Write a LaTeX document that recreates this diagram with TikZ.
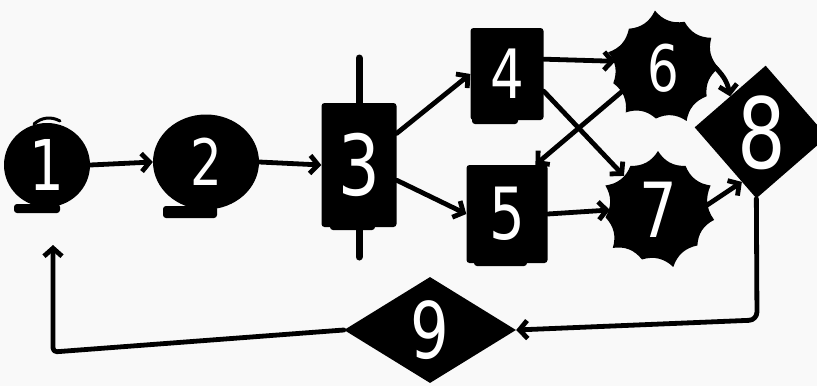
\documentclass[tikz,border=0pt]{standalone}
\usepackage{fontspec}
\newfontfamily\digitfont[FakeStretch=0.78]{DejaVu Sans}
\usetikzlibrary{arrows.meta,shapes.geometric}
\begin{document}
\begin{tikzpicture}[x=1pt,y=-1pt,
  num/.style={text=white, font=\digitfont\fontsize{#1}{#1}\selectfont, inner sep=0pt},
  num/.default=70,
  plainline/.style={line width=4.8pt, line cap=round, line join=round},
  conn/.style={plainline, -{Straight Barb[length=8pt,width=18pt]}},
  blobfill/.style={fill=black}]
\fill[gray!5] (0,0) rectangle (817,386);
\useasboundingbox (0,0) rectangle (817,386);

% node 1
\draw[line width=3pt, line cap=round] (34,124) to[bend left=35] (60,121);
\fill[rounded corners=3pt] (14,204) rectangle (60,213);
\node[ellipse, fill=black, minimum width=86pt, minimum height=84pt, num=70] (n1) at (47,165) {1};

% node 2
\fill[rounded corners=3pt] (163,206) rectangle (217,218);
\node[ellipse, fill=black, minimum width=106pt, minimum height=95pt, num=64] (n2) at (206,162) {2};

% node 3
\draw[plainline, line width=7pt] (359,58) -- (359,257);
\fill[rounded corners=3pt] (330,220) rectangle (375,230);
\node[rectangle, rounded corners=3pt, fill=black, minimum width=75pt, minimum height=124pt, num=84] (n3) at (359,165) {3};

% node 4
\fill[rounded corners=3pt] (472,110) rectangle (518,124);
\node[rectangle, rounded corners=3pt, fill=black, minimum width=73pt, minimum height=92pt, num=68] (n4) at (507,74) {4};

% node 5
\fill[rounded corners=3pt] (474,252) rectangle (527,266);
\node[rectangle, rounded corners=3pt, fill=black, minimum width=81pt, minimum height=98pt, num=72] (n5) at (507,214) {5};

% node 6
\fill[blobfill, shift={(663,68)}] (0:56)
  \foreach \a/\r in {33/52,66/58,98/51,130/58,163/52,196/57,229/52,262/58,295/51,328/57,360/56} { to[bend right=30] (\a:\r) } -- cycle;
\node[circle, minimum size=96pt, num=64] (n6) at (663,68) {6};

% node 7
\fill[blobfill, shift={(658,210)}] (10:57)
  \foreach \a/\r in {42/53,75/59,108/52,140/59,172/53,205/58,238/52,270/59,302/52,335/58,370/57} { to[bend right=30] (\a:\r) } -- cycle;
\node[circle, minimum size=96pt, num=76] (n7) at (658,210) {7};

% node 8
\node[rectangle, fill=black, minimum size=94pt, rotate=41] (n8) at (761,132) {};
\node[num=98] (t8) at (762,133) {8};

% node 9
\node[diamond, fill=black, minimum width=172pt, minimum height=106pt, num=78] (n9) at (430,330) {9};

% connectors
\draw[conn] (n1.east) -- (n2.west);
\draw[conn] (n2.east) -- (n3.west);
\draw[conn] (n3.40) -- (n4.west);
\draw[conn] (n3.-22) -- (n5.west);
\draw[conn] (n4.22) -- (n6.172);
\draw[conn] (n4.-25) -- (n7.135);
\draw[conn] (n6.210) -- (n5.60);
\draw[conn] (n5.east) -- (n7.west);
\draw[conn] (n6.5) to[bend left=20] (n8.north);
\draw[conn] (n7.5) -- (n8.208);

\coordinate (c1) at (757,320);
\coordinate (c2) at (53,352);
\coordinate (c3) at (53,245);
\draw[conn, rounded corners=8pt] (n8.south west) -- (c1) -- (n9.east);
\draw[conn, rounded corners=4pt] (n9.west) -- (c2) -- (c3);
\end{tikzpicture}
\end{document}
